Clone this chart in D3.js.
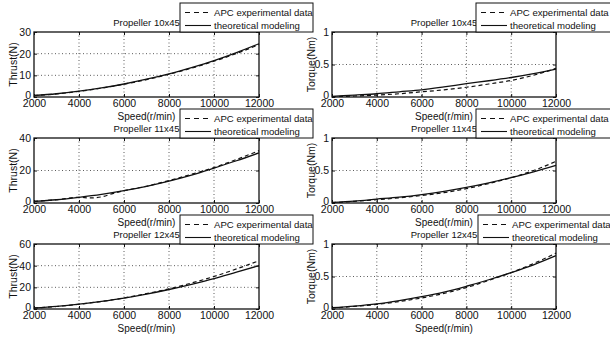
<!DOCTYPE html>
<meta charset="utf-8">
<script src="https://d3js.org/d3.v7.min.js"></script>
<style>
  body { margin: 0; background: #fff; }
  svg { display: block; font-family: "Liberation Sans", Arial, sans-serif; }
</style>
<div id="chart"></div>
<script>

// speeds in r/min
var speeds = [2000, 3000, 4000, 5000, 6000, 7000, 8000, 9000, 10000, 11000, 12000];
var speeds11Exp = [2000, 3000, 4000, 4500, 5000, 5500, 6000, 7000, 8000, 9000, 10000, 11000, 12000];

// Propeller 10x45
var thrust10Exp   = [0.6, 1.4, 2.6, 4.1, 5.9, 8.0, 10.5, 13.3, 16.5, 20.1, 24.2];
var thrust10Model = [0.7, 1.5, 2.7, 4.2, 6.0, 8.2, 10.7, 13.6, 16.8, 20.5, 24.6];
var torque10Exp   = [0.005, 0.015, 0.03, 0.05, 0.08, 0.11, 0.15, 0.2, 0.255, 0.335, 0.44];
var torque10Model = [0.01, 0.03, 0.05, 0.08, 0.11, 0.155, 0.205, 0.25, 0.30, 0.36, 0.43];

// Propeller 11x45
var thrust11Exp   = [1.0, 2.0, 3.5, 3.1, 3.8, 5.8, 7.6, 10.3, 13.8, 17.7, 21.8, 26.8, 32.2];
var thrust11Model = [1.0, 2.0, 3.5, 5.3, 7.6, 10.3, 13.5, 17.2, 21.5, 26.0, 30.8];
var torque11Exp   = [0.005, 0.025, 0.05, 0.08, 0.115, 0.16, 0.22, 0.30, 0.39, 0.50, 0.64];
var torque11Model = [0.01, 0.03, 0.06, 0.09, 0.13, 0.18, 0.24, 0.31, 0.39, 0.48, 0.58];

// Propeller 12x45
var thrust12Exp   = [0.8, 2.3, 4.4, 7.0, 10.2, 14.2, 18.6, 24.0, 30.0, 37.0, 44.5];
var thrust12Model = [1.0, 2.5, 4.5, 7.0, 10.0, 13.7, 18.0, 22.8, 28.0, 34.0, 40.0];
var torque12Exp   = [0.015, 0.04, 0.07, 0.115, 0.17, 0.24, 0.33, 0.44, 0.56, 0.70, 0.86];
var torque12Model = [0.02, 0.045, 0.08, 0.13, 0.19, 0.26, 0.35, 0.45, 0.56, 0.68, 0.82];

var xTicks = [2000, 4000, 6000, 8000, 10000, 12000];
var thrustTicks10 = [0, 10, 20, 30];
var thrustTicks11 = [0, 20, 40];
var thrustTicks12 = [0, 20, 40, 60];
var torqueTicks = [0, 0.5, 1];

var legendLabels = ["APC experimental data", "theoretical modeling"];
var titles = ["Propeller 10x45", "Propeller 11x45", "Propeller 12x45"];

var panels = [
  {row: 0, col: 0, yLabel: "Thrust(N)", yTicks: thrustTicks10, expX: speeds, exp: thrust10Exp, model: thrust10Model},
  {row: 0, col: 1, yLabel: "Torque(Nm)", yTicks: torqueTicks, expX: speeds, exp: torque10Exp, model: torque10Model},
  {row: 1, col: 0, yLabel: "Thrust(N)", yTicks: thrustTicks11, expX: speeds11Exp, exp: thrust11Exp, model: thrust11Model},
  {row: 1, col: 1, yLabel: "Torque(Nm)", yTicks: torqueTicks, expX: speeds, exp: torque11Exp, model: torque11Model},
  {row: 2, col: 0, yLabel: "Thrust(N)", yTicks: thrustTicks12, expX: speeds, exp: thrust12Exp, model: thrust12Model},
  {row: 2, col: 1, yLabel: "Torque(Nm)", yTicks: torqueTicks, expX: speeds, exp: torque12Exp, model: torque12Model}
];

// pixel boxes of the subplots
var colX = [[34, 259], [332, 556]];
var rowY = [[32, 97], [138, 203], [244, 309]];
var legendX = [180, 476];

var svg = d3.select("#chart").append("svg")
  .attr("width", 610)
  .attr("height", 338);

var ink = "#111";

panels.forEach(function(p) {
  var x0 = colX[p.col][0], x1 = colX[p.col][1];
  var y0 = rowY[p.row][0], y1 = rowY[p.row][1];
  var yMax = p.yTicks[p.yTicks.length - 1];

  var x = d3.scaleLinear().domain([2000, 12000]).range([x0, x1]);
  var y = d3.scaleLinear().domain([0, yMax]).range([y1, y0]);

  var g = svg.append("g");

  // dotted grid
  g.selectAll(".gx").data(xTicks.slice(1, -1)).enter().append("line")
    .attr("x1", function(d) { return x(d); }).attr("x2", function(d) { return x(d); })
    .attr("y1", y0).attr("y2", y1)
    .attr("stroke", "#333").attr("stroke-width", 0.8).attr("stroke-dasharray", "1,2.5");
  g.selectAll(".gy").data(p.yTicks.slice(1, -1)).enter().append("line")
    .attr("x1", x0).attr("x2", x1)
    .attr("y1", function(d) { return y(d); }).attr("y2", function(d) { return y(d); })
    .attr("stroke", "#333").attr("stroke-width", 0.8).attr("stroke-dasharray", "1,2.5");

  // axes with inward ticks (bottom/top, left/right)
  var axB = g.append("g").attr("transform", "translate(0," + y1 + ")")
    .call(d3.axisBottom(x).tickValues(xTicks).tickSize(-3).tickPadding(2.5).tickFormat(d3.format("d")));
  var axT = g.append("g").attr("transform", "translate(0," + y0 + ")")
    .call(d3.axisTop(x).tickValues(xTicks).tickSize(-3).tickFormat(""));
  var axL = g.append("g").attr("transform", "translate(" + x0 + ",0)")
    .call(d3.axisLeft(y).tickValues(p.yTicks).tickSize(-3).tickPadding(3).tickFormat(d3.format("~g")));
  var axR = g.append("g").attr("transform", "translate(" + x1 + ",0)")
    .call(d3.axisRight(y).tickValues(p.yTicks).tickSize(-3).tickFormat(""));
  [axB, axT, axL, axR].forEach(function(a) {
    a.select(".domain").remove();
    a.selectAll("line").attr("stroke", ink);
    a.selectAll("text").attr("fill", ink).style("font-size", "10.5px")
      .style("font-family", "Liberation Sans, Arial, sans-serif");
  });
  // the "0" sits a bit higher than the others, as in the original
  axL.selectAll("text").filter(function(d) { return d === 0; }).attr("dy", "0.1em");

  // lines
  var lineExp = d3.line().curve(d3.curveMonotoneX)
    .x(function(d, i) { return x(p.expX[i]); }).y(function(d) { return y(d); });
  var lineMod = d3.line().curve(d3.curveMonotoneX)
    .x(function(d, i) { return x(speeds[i]); }).y(function(d) { return y(d); });

  g.append("path").datum(p.model).attr("d", lineMod)
    .attr("fill", "none").attr("stroke", ink).attr("stroke-width", 1.3);
  g.append("path").datum(p.exp).attr("d", lineExp)
    .attr("fill", "none").attr("stroke", ink).attr("stroke-width", 1.2)
    .attr("stroke-dasharray", "4,3");

  // frame
  g.append("rect").attr("x", x0).attr("y", y0)
    .attr("width", x1 - x0).attr("height", y1 - y0)
    .attr("fill", "none").attr("stroke", ink).attr("stroke-width", 1.3);

  // title and labels
  g.append("text").attr("x", (x0 + x1) / 2).attr("y", y0 - 6.5)
    .attr("text-anchor", "middle").attr("fill", ink).style("font-size", "9.5px")
    .text(titles[p.row]);
  g.append("text").attr("x", (x0 + x1) / 2).attr("y", y1 + 23)
    .attr("text-anchor", "middle").attr("fill", ink).style("font-size", "10px")
    .text("Speed(r/min)");
  g.append("text")
    .attr("transform", "translate(" + (x0 - 17) + "," + ((y0 + y1) / 2) + ") rotate(-90)")
    .attr("text-anchor", "middle").attr("fill", ink).style("font-size", "10.5px")
    .text(p.yLabel);
});

// legends last so they cover the row above, like the original
panels.forEach(function(p) {
  var lx = legendX[p.col] + (p.row === 2 && p.col === 1 ? 2 : 0);
  var ly = rowY[p.row][0] - 29;
  var w = p.col === 0 ? 133 : 140;
  var lg = svg.append("g");
  lg.append("rect").attr("x", lx).attr("y", ly).attr("width", w).attr("height", 29)
    .attr("fill", "#fff").attr("stroke", ink).attr("stroke-width", 1);
  legendLabels.forEach(function(lab, i) {
    var yy = ly + 9.5 + i * 13;
    lg.append("line").attr("x1", lx + 5).attr("x2", lx + 31)
      .attr("y1", yy).attr("y2", yy)
      .attr("stroke", ink).attr("stroke-width", 1.1)
      .attr("stroke-dasharray", i === 0 ? "5,4" : null);
    lg.append("text").attr("x", lx + 34).attr("y", yy + 3.5)
      .attr("fill", ink).style("font-size", "9.6px").text(lab);
  });
});

</script>
